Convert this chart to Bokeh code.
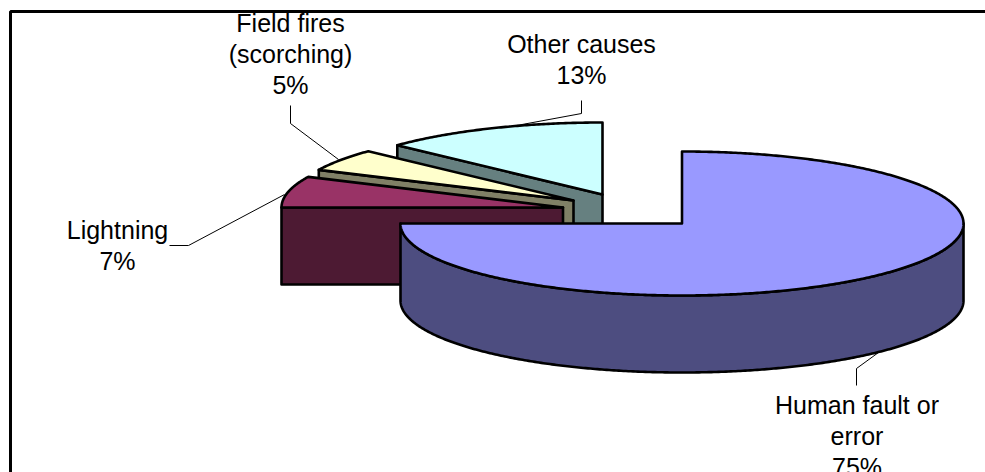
import numpy as np
from bokeh.embed import file_html
from bokeh.models import Range1d
from bokeh.plotting import figure
from bokeh.resources import INLINE
from bokeh.core.properties import value

# Causes of fires, share of total in percent, clockwise from twelve o'clock
categories = ["Human fault or error", "Lightning", "Field fires (scorching)", "Other causes"]
shares = [75, 7, 5, 13]
label_lines = [["Human fault or", "error"], ["Lightning"], ["Field fires", "(scorching)"], ["Other causes"]]

top_colors = ["#9999FF", "#993366", "#FFFFCC", "#CCFFFF"]
side_colors = ["#4D4D80", "#4D1A33", "#808066", "#668080"]

# Projected pie geometry, in page pixels
RX, RY, DEPTH = 281.5, 72, 77
apexes = [(681.5, 223), (562.5, 207), (573, 200), (602, 194)]
label_x = [856.5, 117, 290, 581]
label_y = [404.5, 229, 22.5, 43]
LINE_STEP = 31
leaders = [
    [(878, 352), (856, 368), (856, 385)],
    [(284, 194), (188, 245), (169, 245)],
    [(338, 159), (290, 123), (290, 105)],
    [(500, 128), (581, 113), (581, 100)],
]

p = figure(width=985, height=472, output_backend="svg", toolbar_location=None,
           x_range=Range1d(0, 985), y_range=Range1d(472, 0),
           min_border=0, outline_line_color=None, background_fill_color="white")
p.axis.visible = False
p.grid.visible = False


def rim(cx, cy, a0, a1, dy=0.0):
    """Points along the elliptical rim; angles in degrees, clockwise from the top."""
    t = np.radians(np.linspace(a0, a1, max(int(abs(a1 - a0) * 2), 2) + 1))
    return cx + RX * np.sin(t), cy - RY * np.cos(t) + dy


EDGE = dict(line_color="black", line_width=2.6, line_join="round")

# Chart frame: only its top and left edges fall inside the page
p.line([10, 10, 985], [472, 11, 11], line_color="black", line_width=3)

# Leader lines sit behind the slices
for pts in leaders:
    xs, ys = zip(*pts)
    p.line(list(xs), list(ys), line_color="black", line_width=1)

# Slice angular ranges from the shares
edges = np.cumsum([0] + shares) * 3.6
spans = list(zip(edges[:-1], edges[1:]))

# Back-to-front: other causes, field fires, lightning, then the large slice
for i in [3, 2, 1, 0]:
    a0, a1 = spans[i]
    cx, cy = apexes[i]
    if i == 0:
        # Outer wall of the large slice runs under the front of the rim
        xa, ya = rim(cx, cy, 90, a1)
        xb, yb = rim(cx, cy, a1, 90, DEPTH)
        p.patch(list(xa) + list(xb), list(ya) + list(yb), fill_color=side_colors[i], **EDGE)
    else:
        # Cut face on the clockwise-most edge that faces the viewer
        x0, y0 = rim(cx, cy, a0, a0)
        x0, y0 = x0[0], y0[0]
        p.patch([x0, cx, cx, x0], [y0, cy, cy + DEPTH, y0 + DEPTH], fill_color=side_colors[i], **EDGE)
    xt, yt = rim(cx, cy, a0, a1)
    p.patch([cx] + list(xt), [cy] + list(yt), fill_color=top_colors[i], **EDGE)

# Data labels: category lines followed by the percentage
for lines, share, x, y in zip(label_lines, shares, label_x, label_y):
    rows = lines + [f"{share}%"]
    p.text([x] * len(rows), [y + LINE_STEP * k for k in range(len(rows))], text=rows,
           text_font=value("Liberation Sans"), text_font_size="25px", text_color="black",
           text_align="center", text_baseline="middle")

open("out.html", "w").write(file_html(p, INLINE))
